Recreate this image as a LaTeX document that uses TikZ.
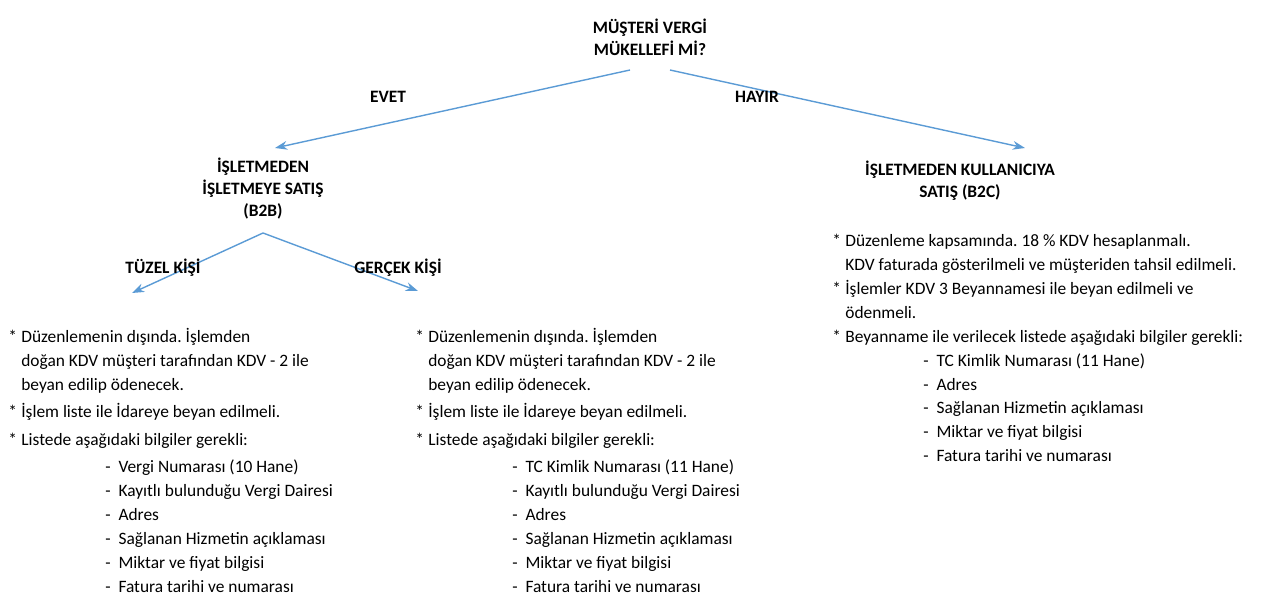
\documentclass[tikz,border=0pt]{standalone}
\usepackage{fontspec}
\setmainfont{Carlito}
\usetikzlibrary{arrows.meta,positioning}
\definecolor{okmavi}{RGB}{91,155,213}
\newcommand{\madde}[1]{\makebox[13\pxu][l]{*}#1}
\newlength{\pxu}\setlength{\pxu}{0.02cm}
\frenchspacing
\begin{document}
\begin{tikzpicture}[x=0.02cm,y=-0.02cm, >={Stealth[length=7pt,width=5pt]}]
  \tikzstyle{every node} = [font=\fontsize{9.9}{13.6}\selectfont, inner sep=0pt, text=black]
  \tikzstyle{baslik} = [align=center, font=\fontsize{9.9}{12.5}\selectfont\bfseries]
  \tikzstyle{liste} = [align=left, anchor=north west]
  \tikzstyle{ok} = [->, okmavi, line width=0.8pt]
  \useasboundingbox (0,0) rectangle (1261,608);

  \node (root) [baslik] at (650,37) {MÜŞTERİ VERGİ\\MÜKELLEFİ Mİ?};
  \node (b2b) [baslik] at (263,189) {İŞLETMEDEN\\İŞLETMEYE SATIŞ\\(B2B)};
  \node (b2c) [baslik] at (960,181) {İŞLETMEDEN KULLANICIYA\\SATIŞ (B2C)};
  \coordinate (b2bsol) at (132,293);
  \coordinate (b2bsag) at (418,291);

  \draw [ok] (630,70) -- (275,148);
  \draw [ok] (670,70) -- (1025,148);
  \draw [ok] (263,233) -- (b2bsol);
  \draw [ok] (263,233) -- (b2bsag);
  \node (evet) [baslik] at (388,97) {EVET};
  \node (hayir) [baslik] at (757,97) {HAYIR};
  \node (tuzelk) [baslik] at (163,268) {TÜZEL KİŞİ};
  \node (gercekk) [baslik] at (398,268) {GERÇEK KİŞİ};

  \node (tuzel) [liste] at (8,328) {%
    \madde{Düzenlemenin dışında. İşlemden}\\
    \hspace*{13\pxu}doğan KDV müşteri tarafından KDV - 2 ile\\
    \hspace*{13\pxu}beyan edilip ödenecek.\\[2pt]
    \madde{İşlem liste ile İdareye beyan edilmeli.}\\[2pt]
    \madde{Listede aşağıdaki bilgiler gerekli:}\\[2pt]
    \hspace*{97\pxu}- \ Vergi Numarası (10 Hane)\\
    \hspace*{97\pxu}- \ Kayıtlı bulunduğu Vergi Dairesi\\
    \hspace*{97\pxu}- \ Adres\\
    \hspace*{97\pxu}- \ Sağlanan Hizmetin açıklaması\\
    \hspace*{97\pxu}- \ Miktar ve fiyat bilgisi\\
    \hspace*{97\pxu}- \ Fatura tarihi ve numarası};
  \node (gercek) [liste] at (415,328) {%
    \madde{Düzenlemenin dışında. İşlemden}\\
    \hspace*{13\pxu}doğan KDV müşteri tarafından KDV - 2 ile\\
    \hspace*{13\pxu}beyan edilip ödenecek.\\[2pt]
    \madde{İşlem liste ile İdareye beyan edilmeli.}\\[2pt]
    \madde{Listede aşağıdaki bilgiler gerekli:}\\[2pt]
    \hspace*{97\pxu}- \ TC Kimlik Numarası (11 Hane)\\
    \hspace*{97\pxu}- \ Kayıtlı bulunduğu Vergi Dairesi\\
    \hspace*{97\pxu}- \ Adres\\
    \hspace*{97\pxu}- \ Sağlanan Hizmetin açıklaması\\
    \hspace*{97\pxu}- \ Miktar ve fiyat bilgisi\\
    \hspace*{97\pxu}- \ Fatura tarihi ve numarası};
  \node (kullanici) [liste] at (832,234) {%
    \madde{Düzenleme kapsamında. 18 \% KDV hesaplanmalı.}\\
    \hspace*{13\pxu}KDV faturada gösterilmeli ve müşteriden tahsil edilmeli.\\
    \madde{İşlemler KDV 3 Beyannamesi ile beyan edilmeli ve}\\
    \hspace*{13\pxu}ödenmeli.\\
    \madde{Beyanname ile verilecek listede aşağıdaki bilgiler gerekli:}\\
    \hspace*{91\pxu}- \ TC Kimlik Numarası (11 Hane)\\
    \hspace*{91\pxu}- \ Adres\\
    \hspace*{91\pxu}- \ Sağlanan Hizmetin açıklaması\\
    \hspace*{91\pxu}- \ Miktar ve fiyat bilgisi\\
    \hspace*{91\pxu}- \ Fatura tarihi ve numarası};
\end{tikzpicture}
\end{document}
